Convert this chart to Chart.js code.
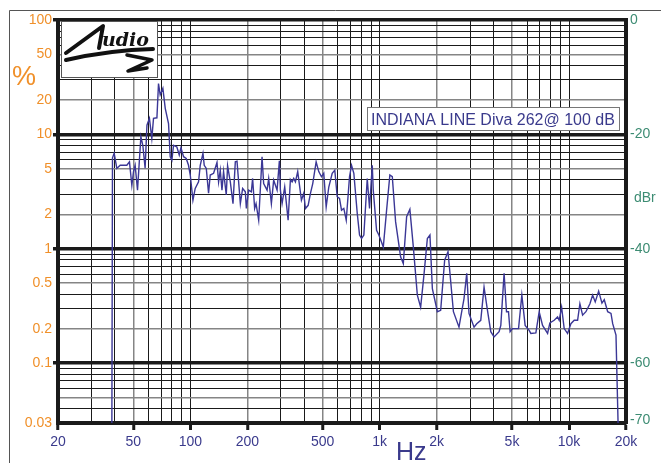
<!DOCTYPE html>
<html>
<head>
<meta charset="utf-8">
<title>INDIANA LINE Diva 262 - distortion</title>
<script src="https://cdn.jsdelivr.net/npm/chart.js@4.4.1/dist/chart.umd.min.js"></script>
<style>
  html, body { margin: 0; padding: 0; background: #fff; }
  #wrap { width: 661px; height: 463px; }
</style>
</head>
<body>
<div id="wrap"><canvas id="canvas" width="661" height="463"></canvas></div>
<script>
// distortion curve: frequency in Hz, level in dBr (right axis)
const freqHz = [38.5, 38.8, 39.6, 40.9, 42.6, 46.2, 47.7, 49.1, 50.1, 51.1,
  52.6, 54.8, 56.1, 57.7, 59.0, 60.8, 62.6, 63.9, 66.6, 67.9,
  69.3, 71.6, 73.7, 76.7, 78.3, 79.9, 81.5, 84.9, 87.4, 89.2,
  92.1, 95.1, 97.8, 99.9, 103.2, 106.1, 110.5, 112.8, 116.6, 118.4,
  121.4, 124.8, 127.4, 132.7, 138.3, 141.0, 143.9, 146.9, 149.8, 154.8,
  157.3, 162.6, 168.0, 172.8, 176.4, 183.7, 188.9, 195.2, 197.6, 203.2,
  210.0, 213.3, 218.6, 222.4, 229.6, 239.2, 243.9, 254.3, 259.3, 267.9,
  275.5, 287.2, 295.3, 299.0, 305.2, 315.1, 328.4, 337.7, 344.8, 351.6,
  358.9, 369.1, 386.1, 397.1, 405.5, 419.0, 430.9, 443.1, 461.8, 476.7,
  492.7, 506.7, 521.7, 538.6, 561.4, 579.4, 596.6, 613.6, 628.7, 646.6,
  665.8, 693.0, 710.2, 730.4, 761.3, 782.9, 802.2, 824.9, 859.8, 884.2,
  913.8, 925.0, 962.9, 990.2, 1045, 1088, 1132, 1166, 1214, 1290,
  1333, 1388, 1444, 1506, 1581, 1646, 1713, 1786, 1843, 1898,
  2017, 2100, 2204, 2296, 2452, 2624, 2702, 2789, 2883, 2964,
  3151, 3256, 3419, 3559, 3710, 3862, 4020, 4273, 4363, 4541,
  4676, 4791, 4886, 5030, 5413, 5635, 5866, 6158, 6287, 6683,
  6957, 7251, 7707, 7925, 8350, 8703, 8875, 9138, 9431, 9830,
  10232, 10653, 11101, 11416, 11798, 12284, 12898, 13327, 13757, 14340,
  14930, 15355, 16004, 16663, 17010, 17708, 18210];

const distDbr = [-72, -24.1, -23.3, -25.95, -25.4, -25.4, -24.8, -28.9, -26.5, -25.4,
  -29.75, -20.4, -21.9, -25.9, -18.4, -17.2, -20.7, -17.2, -17.1, -11.1,
  -13.1, -11.95, -15.45, -18.1, -23.9, -24.5, -21.9, -22.2, -23.6, -22.35,
  -23.9, -24.2, -25.4, -27.1, -31.5, -29.45, -28.3, -25.4, -23.3, -25.4,
  -25.95, -30.3, -27.1, -26.8, -24.9, -28.3, -26.25, -29.75, -26.5, -30.6,
  -25.5, -28.3, -32.1, -24.8, -24.7, -32.1, -29.45, -30.05, -32.95, -29.75,
  -30.05, -27.7, -32.95, -32.1, -35.0, -23.9, -28.6, -29.75, -27.7, -32.1,
  -28.0, -29.75, -24.6, -29.75, -32.1, -29.2, -35.0, -27.9, -28.3, -27.7,
  -28.3, -26.5, -31.5, -30.3, -32.95, -32.4, -30.3, -28.6, -24.8, -26.5,
  -27.4, -26.8, -32.7, -29.2, -26.8, -26.25, -30.9, -31.2, -33.25, -32.95,
  -35.0, -27.4, -25.4, -26.8, -33.8, -37.6, -38.2, -37.6, -27.7, -32.95,
  -25.4, -29.75, -36.75, -37.6, -39.7, -33.25, -27.1, -27.4, -35.3, -41.4,
  -42.6, -34.4, -33.1, -39.7, -48.1, -50.2, -44.6, -38.2, -37.6, -46.95,
  -51.0, -50.75, -42.0, -40.5, -51.0, -53.7, -51.3, -48.7, -44.3, -51.3,
  -53.7, -53.1, -52.5, -46.7, -50.75, -54.5, -55.4, -54.5, -53.4, -44.3,
  -51.0, -51.0, -54.5, -53.95, -53.95, -48.1, -53.4, -54.25, -54.8, -54.7,
  -51.0, -53.4, -54.8, -52.95, -52.5, -51.9, -52.5, -50.2, -53.95, -54.8,
  -53.1, -52.5, -52.5, -49.6, -51.6, -51.0, -49.6, -48.1, -49.3, -47.4,
  -49.5, -48.9, -51.0, -51.3, -53.1, -55.1, -72];

const xGridHz = [20, 30, 40, 50, 60, 70, 80, 90, 100, 200, 300, 400, 500, 600, 700, 800, 900,
  1000, 2000, 3000, 4000, 5000, 6000, 7000, 8000, 9000, 10000, 20000];
const xLabelHz = [20, 50, 100, 200, 500, 1000, 2000, 5000, 10000, 20000];
const yGridPct = [0.03, 0.04, 0.05, 0.06, 0.07, 0.08, 0.09, 0.1, 0.2, 0.3, 0.4, 0.5, 0.6, 0.7, 0.8, 0.9,
  1, 2, 3, 4, 5, 6, 7, 8, 9, 10, 20, 30, 40, 50, 60, 70, 80, 90, 100];
const yLabelPct = [0.03, 0.1, 0.2, 0.5, 1, 2, 5, 10, 20, 50, 100];
const dbrTicks = [0, -20, -40, -60, -70];
const legendText = 'INDIANA LINE Diva 262@ 100 dB';

const pctMin = 0.03, pctMax = 100;
const dbrMin = 20 * Math.log10(pctMin / pctMax);

const ORANGE = '#f0902a', TEAL = '#3d8c73', BLUE = '#3a3a8c', LINE = '#3b3796';
const DARK = '#1a1a1a', GREY = '#858585';

// 1, 2, 3 ... from a grid value
function mant(v) {
  return Math.round(v / Math.pow(10, Math.floor(Math.log10(v) + 1e-9)));
}

Chart.defaults.font.family = '"Liberation Sans", Arial, sans-serif';

const decor = {
  id: 'decor',
  beforeDraw(chart) {
    const ctx = chart.ctx;
    ctx.save();
    ctx.fillStyle = '#fff';
    ctx.fillRect(0, 0, chart.width, chart.height);
    ctx.strokeStyle = '#555';
    ctx.lineWidth = 1;
    ctx.beginPath();
    ctx.moveTo(9.5, chart.height);
    ctx.lineTo(9.5, 10.5);
    ctx.lineTo(chart.width, 10.5);
    ctx.stroke();
    ctx.restore();
  },
  afterDraw(chart) {
    const ctx = chart.ctx;
    ctx.save();
    // axis names
    ctx.fillStyle = ORANGE;
    ctx.font = '27px "Liberation Sans", Arial, sans-serif';
    ctx.textBaseline = 'alphabetic';
    ctx.fillText('%', 12, 85);
    ctx.fillStyle = BLUE;
    ctx.font = '25px "Liberation Sans", Arial, sans-serif';
    ctx.fillText('Hz', 396, 460);
    ctx.fillStyle = TEAL;
    ctx.font = '14px "Liberation Sans", Arial, sans-serif';
    ctx.fillText('dBr', 634, 202);

    // legend box
    ctx.fillStyle = '#fff';
    ctx.fillRect(367, 107, 252, 24);
    ctx.strokeStyle = '#777';
    ctx.lineWidth = 1;
    ctx.strokeRect(367.5, 107.5, 252, 23);
    ctx.fillStyle = BLUE;
    ctx.font = '16px "Liberation Sans", Arial, sans-serif';
    ctx.fillText(legendText, 371, 125);

    // logo
    ctx.fillStyle = '#fff';
    ctx.fillRect(61, 21, 96, 56);
    ctx.strokeStyle = '#555';
    ctx.strokeRect(61.5, 21.5, 96, 56);
    ctx.strokeStyle = '#111';
    ctx.fillStyle = '#111';
    ctx.lineCap = 'round';
    ctx.lineJoin = 'round';
    ctx.lineWidth = 4;
    ctx.beginPath();
    ctx.moveTo(66, 53); ctx.lineTo(103, 26); ctx.lineTo(99, 48);
    ctx.stroke();
    ctx.beginPath();
    ctx.moveTo(66, 60); ctx.quadraticCurveTo(110, 50, 153, 49);
    ctx.stroke();
    ctx.lineWidth = 3.5;
    ctx.beginPath();
    ctx.moveTo(127, 55); ctx.lineTo(152, 60); ctx.lineTo(128, 71); ctx.lineTo(147, 68);
    ctx.stroke();
    ctx.font = 'bold italic 19px "DejaVu Serif", serif';
    ctx.fillText('udio', 102, 46);
    ctx.restore();
  }
};

const canvas = document.getElementById('canvas');
const chart = new Chart(canvas, {
  type: 'line',
  data: {
    datasets: [{
      data: freqHz.map((f, i) => ({ x: f, y: distDbr[i] })),
      xAxisID: 'x',
      yAxisID: 'yR',
      borderColor: LINE,
      borderWidth: 1.4,
      pointRadius: 0,
      tension: 0,
      fill: false
    }]
  },
  options: {
    responsive: false,
    animation: false,
    devicePixelRatio: 1,
    layout: { padding: { top: 20, left: 0, right: 0, bottom: 0 } },
    plugins: { legend: { display: false }, tooltip: { enabled: false } },
    scales: {
      x: {
        type: 'logarithmic',
        position: 'bottom',
        min: 20,
        max: 20000,
        afterBuildTicks: s => { s.ticks = xGridHz.map(v => ({ value: v })); },
        afterFit: s => { s.height = 40; },
        border: { display: true, color: DARK, width: 4 },
        grid: {
          color: c => {
            const v = c.tick.value;
            if (v === 20 || v === 20000) return 'rgba(0,0,0,0)';
            const m = mant(v);
            return (m === 2 || m === 5) ? GREY : DARK;
          },
          lineWidth: c => { const m = mant(c.tick.value); return (m === 2 || m === 5) ? 1.5 : 1; },
          tickLength: 7,
          tickColor: c => xLabelHz.includes(c.tick.value) ? DARK : 'rgba(0,0,0,0)',
          tickWidth: 3
        },
        ticks: {
          autoSkip: false,
          maxRotation: 0,
          minRotation: 0,
          padding: 4,
          color: BLUE,
          font: { size: 14 },
          callback: v => xLabelHz.includes(v) ? (v >= 1000 ? (v / 1000) + 'k' : String(v)) : ''
        }
      },
      y: {
        type: 'logarithmic',
        position: 'left',
        min: pctMin,
        max: pctMax,
        afterBuildTicks: s => { s.ticks = yGridPct.map(v => ({ value: v })); },
        afterFit: s => { s.width = 58; },
        border: { display: true, color: DARK, width: 4 },
        grid: {
          color: c => {
            const v = c.tick.value;
            if (v === pctMin) return 'rgba(0,0,0,0)';
            const m = mant(v);
            return (m === 2 || m === 5) ? GREY : DARK;
          },
          lineWidth: c => {
            const m = mant(c.tick.value);
            if (m === 1) return 3.5;
            return (m === 2 || m === 5) ? 1.5 : 1;
          },
          tickLength: 5,
          tickColor: c => mant(c.tick.value) === 1 ? DARK : 'rgba(0,0,0,0)',
          tickWidth: 3.5
        },
        ticks: {
          autoSkip: false,
          padding: 1,
          color: ORANGE,
          font: { size: 14 },
          callback: v => yLabelPct.includes(v) ? String(v) : ''
        }
      },
      yR: {
        type: 'linear',
        position: 'right',
        min: dbrMin,
        max: 0,
        afterBuildTicks: s => { s.ticks = dbrTicks.map(v => ({ value: v })); },
        afterFit: s => { s.width = 35; },
        border: { display: true, color: DARK, width: 4 },
        grid: { drawOnChartArea: false, drawTicks: false },
        ticks: {
          autoSkip: false,
          padding: 4,
          color: TEAL,
          font: { size: 14 },
          callback: v => String(v)
        }
      }
    }
  },
  plugins: [decor]
});
</script>
</body>
</html>
